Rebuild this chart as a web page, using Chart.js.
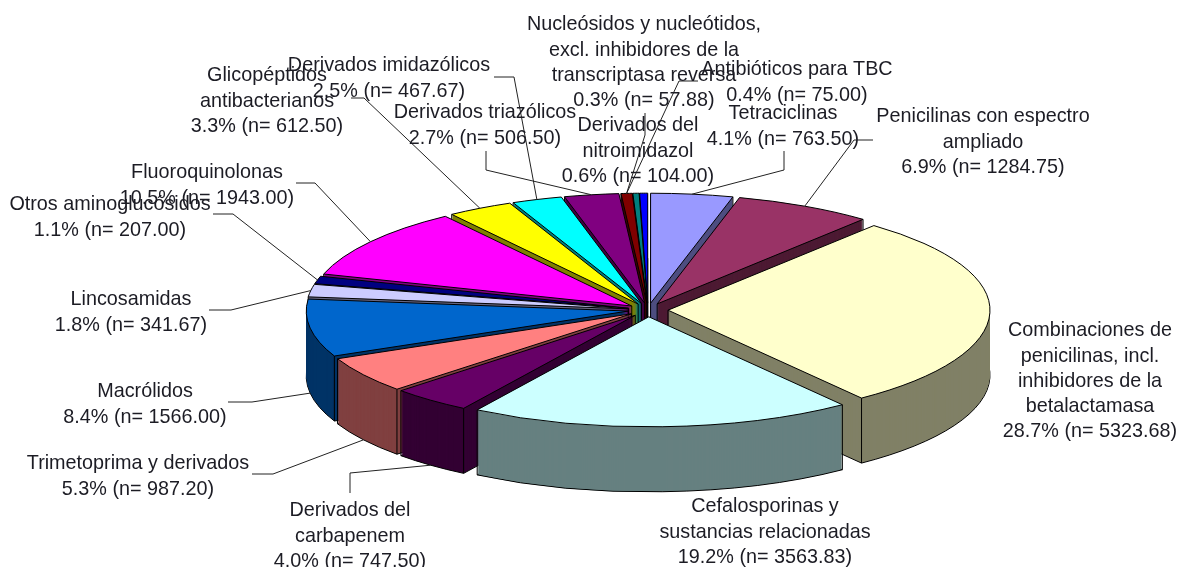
<!DOCTYPE html>
<html><head><meta charset="utf-8">
<style>html,body{margin:0;padding:0;background:#fff}canvas{display:block}</style>
<script src="https://cdn.jsdelivr.net/npm/chart.js@4/dist/chart.umd.js"></script>
</head><body><canvas id="c" width="1177" height="567"></canvas>
<script>
const categories = [
 ["Tetraciclinas"],
 ["Penicilinas con espectro","ampliado"],
 ["Combinaciones de","penicilinas, incl.","inhibidores de la","betalactamasa"],
 ["Cefalosporinas y","sustancias relacionadas"],
 ["Derivados del","carbapenem"],
 ["Trimetoprima y derivados"],
 ["Macrólidos"],
 ["Lincosamidas"],
 ["Otros aminoglucósidos"],
 ["Fluoroquinolonas"],
 ["Glicopéptidos","antibacterianos"],
 ["Derivados imidazólicos"],
 ["Derivados triazólicos"],
 ["Derivados del","nitroimidazol"],
 ["Nucleósidos y nucleótidos,","excl. inhibidores de la","transcriptasa reversa"],
 ["Antibióticos para TBC"]
];
const percents = ["4.1","6.9","28.7","19.2","4.0","5.3","8.4","1.8","1.1","10.5","3.3","2.5","2.7","0.6","0.3","0.4"];
const counts = [763.50,1284.75,5323.68,3563.83,747.50,987.20,1566.00,341.67,207.00,1943.00,612.50,467.67,506.50,104.00,57.88,75.00];
const colors = ["#9999FF","#993366","#FFFFCC","#CCFFFF","#660066","#FF8080","#0066CC","#CCCCFF","#000080","#FF00FF","#FFFF00","#00FFFF","#800080","#800000","#008080","#0000FF"];

// Layout only: label centre x, first-line centre y, leader elbows, optional slice the leader points at
const labelLayout = [
 {x:783,y:112,elbows:[[784,151],[784,170]]},
 {x:983,y:115,elbows:[[873,140],[854,140]]},
 {x:1090,y:329},
 {x:765,y:505},
 {x:350,y:509,elbows:[[350,493],[350,473]]},
 {x:138,y:462,elbows:[[252,474],[273,474]]},
 {x:145,y:390,elbows:[[228,402],[252,402]]},
 {x:131,y:298,elbows:[[209,310],[231,310]]},
 {x:110,y:203,elbows:[[213,214],[233,214]]},
 {x:207,y:171,elbows:[[296,183],[315,183]]},
 {x:267,y:74,elbows:[[351,98],[364,98]]},
 {x:389,y:64,elbows:[[494,77],[514,77]]},
 {x:485,y:111,elbows:[[486,151],[486,170]]},
 {x:638,y:124},
 {x:644,y:23,elbows:[[645,113],[645,135]],tip:13},
 {x:797,y:68,elbows:[[698,81],[679,81]],tip:13}
];
const CX=648, CY=310, RX=322, RY=110, EXPLODE=20, DEPTH=65, LINE=25.2;
const FONT='19.8px "Liberation Sans", Arial, sans-serif';

function halve(hex){
  const n=parseInt(hex.slice(1),16);
  const f=v=>Math.round(v/2);
  return `rgb(${f(n>>16&255)},${f(n>>8&255)},${f(n&255)})`;
}
const inSector=(a,s,c)=>{const t=2*Math.PI;return ((a-s)%t+t)%t<=c;};

const pie3d={
  id:'pie3d',
  beforeDatasetsDraw(chart){
    const ctx=chart.ctx, els=chart.getDatasetMeta(0).data;
    const R=els[0].outerRadius, sx=RX/R, sy=RY/R;
    const proto=CanvasRenderingContext2D.prototype;
    ctx.stroke=function(){const t=ctx.getTransform();ctx.setTransform(1,0,0,1,0,0);proto.stroke.call(ctx);ctx.setTransform(t);};
    const order=els.map((el,i)=>({el,i,mid:(el.startAngle+el.endAngle)/2})).sort((a,b)=>Math.sin(a.mid)-Math.sin(b.mid));
    const put=(el,mid,dy,opts)=>{
      const o=el.options, over=Object.create(o);
      Object.assign(over,opts||{});
      el.options=over;
      ctx.save();
      ctx.translate(CX+Math.cos(mid)*EXPLODE,CY+Math.sin(mid)*EXPLODE*RY/RX+dy);
      ctx.scale(sx,sy);
      ctx.translate(-el.x,-el.y);
      el.draw(ctx);
      ctx.restore();
      el.options=o;
    };
    for(const {el,i,mid} of order){
      const dark=halve(colors[i]);
      put(el,mid,DEPTH,{backgroundColor:dark});
      for(let d=DEPTH-1;d>0;d--) put(el,mid,d,{backgroundColor:dark,borderWidth:0});
      const ox=CX+Math.cos(mid)*EXPLODE, oy=CY+Math.sin(mid)*EXPLODE*RY/RX;
      const s=el.startAngle,c=el.endAngle-el.startAngle;
      const verts=[];
      if(!inSector(Math.PI/2,s,c)) verts.push([ox,oy]);
      for(const a of [s,el.endAngle]){
        const ux=Math.cos(a),uy=Math.sin(a)+0.01;
        if(!(Math.hypot(ux,uy)<1 && inSector(Math.atan2(uy,ux),s,c))) verts.push([ox+Math.cos(a)*RX,oy+Math.sin(a)*RY]);
      }
      ctx.save();ctx.strokeStyle='#000';ctx.lineWidth=1;
      for(const [x,y] of verts){ctx.beginPath();ctx.moveTo(x,y);ctx.lineTo(x,y+DEPTH);proto.stroke.call(ctx);}
      ctx.restore();
      put(el,mid,0);
    }
    delete ctx.stroke;
    return false;
  },
  afterDraw(chart){
    const ctx=chart.ctx, els=chart.getDatasetMeta(0).data;
    const tipOf=i=>{
      const el=els[i], mid=(el.startAngle+el.endAngle)/2;
      const s=Math.sin(mid);
      return [CX+Math.cos(mid)*(RX+EXPLODE), CY+s*(RX+EXPLODE)*RY/RX+(s>0?DEPTH:0)];
    };
    ctx.save();
    ctx.strokeStyle='#222';ctx.lineWidth=1;
    labelLayout.forEach((l,i)=>{
      if(!l.elbows) return;
      const t=tipOf(l.tip===undefined?i:l.tip);
      ctx.beginPath();
      l.elbows.forEach((p,k)=>k?ctx.lineTo(p[0],p[1]):ctx.moveTo(p[0],p[1]));
      ctx.lineTo(t[0],t[1]);ctx.stroke();
    });
    ctx.fillStyle='#1c1c24';ctx.font=FONT;ctx.textAlign='center';ctx.textBaseline='middle';
    labelLayout.forEach((l,i)=>{
      const lines=categories[i].concat(`${percents[i]}% (n= ${counts[i].toFixed(2)})`);
      lines.forEach((t,k)=>ctx.fillText(t,l.x,l.y+2+k*LINE));
    });
    ctx.restore();
  }
};

new Chart(document.getElementById('c'),{
  type:'pie',
  data:{labels:categories.map(c=>c.join(' ')),datasets:[{data:counts,backgroundColor:colors,borderColor:'#000',borderWidth:1}]},
  options:{responsive:false,animation:false,layout:{padding:0},
    plugins:{legend:{display:false},tooltip:{enabled:false},title:{display:false}}},
  plugins:[pie3d]
});
</script></body></html>
